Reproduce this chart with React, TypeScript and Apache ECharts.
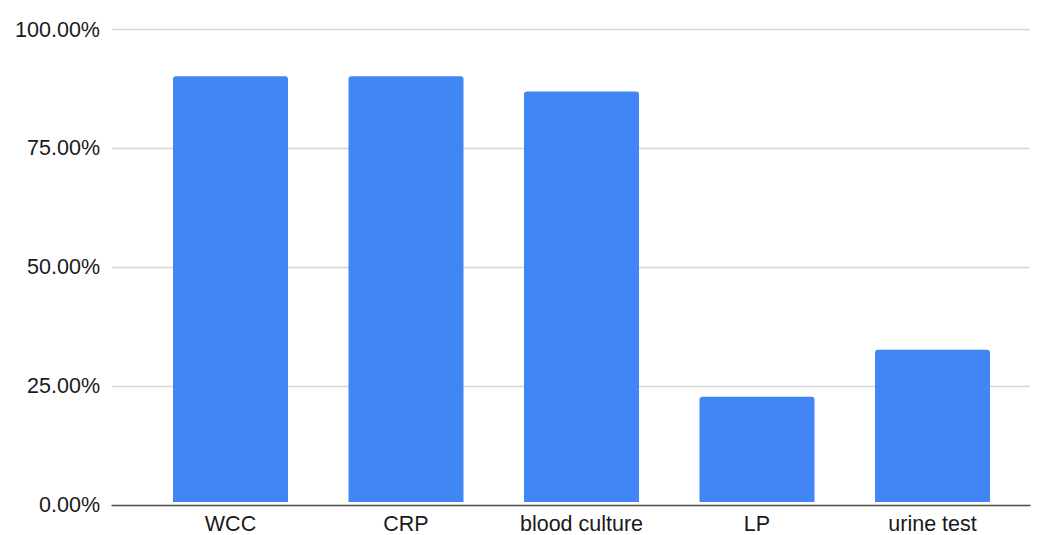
import React, { useEffect, useRef } from "react";
import * as echarts from "echarts";

const categories = ["WCC", "CRP", "blood culture", "LP", "urine test"];
const values = [0.901, 0.901, 0.869, 0.223, 0.322];
const yTicks = [0, 0.25, 0.5, 0.75, 1];

export default function App() {
  const ref = useRef<HTMLDivElement>(null);
  useEffect(() => {
    const chart = echarts.init(ref.current!, null, { renderer: "svg" });
    const font = "'Liberation Sans', Arial, Helvetica, sans-serif";
    chart.setOption({
      animation: false,
      backgroundColor: "#ffffff",
      grid: [
        { left: 112, right: 15, top: 29.5, bottom: 30 },
        { left: 142.75, right: 24.75, top: 29.5, bottom: 30 },
      ],
      xAxis: [
        {
          gridIndex: 0,
          type: "category",
          data: [""],
          z: 5,
          axisLine: { show: true, lineStyle: { color: "#555555", width: 1.3 } },
          axisTick: { show: false },
          axisLabel: { show: false },
          splitLine: { show: false },
        },
        {
          gridIndex: 1,
          type: "category",
          data: categories,
          axisLine: { show: false },
          axisTick: { show: false },
          axisLabel: {
            color: "#1a1a1a",
            fontSize: 21.5,
            fontFamily: font,
            margin: 11,
          },
        },
      ],
      yAxis: [
        {
          gridIndex: 0,
          type: "value",
          min: yTicks[0],
          max: yTicks[yTicks.length - 1],
          interval: 0.25,
          axisLine: { show: false },
          axisTick: { show: false },
          axisLabel: {
            color: "#1a1a1a",
            fontSize: 21.5,
            fontFamily: font,
            margin: 12,
            formatter: (v: number) => (v * 100).toFixed(2) + "%",
          },
          splitLine: { lineStyle: { color: "#d6d6d6", width: 1.3 } },
        },
        {
          gridIndex: 1,
          type: "value",
          min: 0,
          max: 1,
          show: false,
        },
      ],
      series: [
        {
          type: "bar",
          xAxisIndex: 1,
          yAxisIndex: 1,
          data: values,
          barWidth: 115,
          itemStyle: { color: "#4285F4", borderRadius: [3, 3, 0, 0] },
        },
      ],
    });
    return () => chart.dispose();
  }, []);
  return (
    <div
      ref={ref}
      style={{ position: "absolute", left: 0, top: 0, width: 1045, height: 535 }}
    />
  );
}
